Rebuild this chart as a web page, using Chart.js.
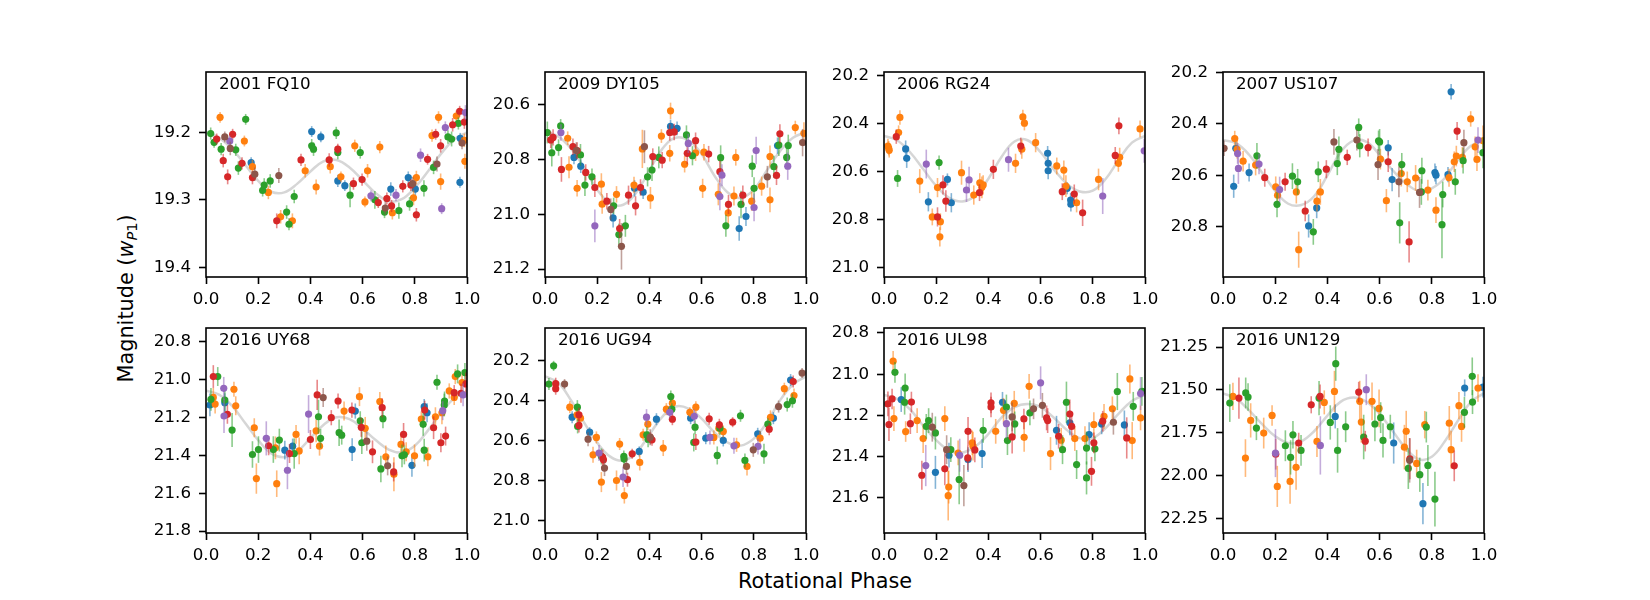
<!DOCTYPE html>
<html>
<head>
<meta charset="utf-8">
<script src="https://cdn.jsdelivr.net/npm/chart.js@4.4.1/dist/chart.umd.min.js"></script>
<style>
  body { margin: 0; width: 1650px; height: 600px; background: #fff; position: relative; overflow: hidden; font-family: 'DejaVu Sans', sans-serif; color: #000; }
  .panel { position: absolute; width: 351px; height: 250px; }
  #xlabel { position: absolute; left: 0; top: 570.7px; width: 1650px; text-align: center; font-size: 20.8px; line-height: 20.8px; white-space: nowrap; }
  #ylabel { position: absolute; left: -24.2px; top: 287.6px; width: 300px; height: 20.8px; text-align: center; font-size: 20.8px; line-height: 20.8px; white-space: nowrap; transform: rotate(-90deg); }
  #ylabel .sub { font-size: 70%; position: relative; top: 0.3em; line-height: 0; }
</style>
</head>
<body>
<div id="xlabel">Rotational Phase</div>
<div id="ylabel">Magnitude (<i>w</i><span class="sub"><i>P</i>1</span>)</div>
<script>
// observations: [phase, magnitude, error, session]
// session colours follow the matplotlib cycle: 0 blue, 1 orange, 2 green, 3 red, 4 purple, 5 brown
const fq10Obs = [
  [0.018,19.202,.009,2],[0.031,19.215,.008,2],[0.041,19.210,.008,3],[0.054,19.178,.008,1],[0.058,19.225,.009,2],
  [0.072,19.207,.008,5],[0.091,19.213,.008,4],[0.093,19.224,.010,5],[0.066,19.242,.010,3],[0.083,19.266,.011,3],
  [0.102,19.203,.008,3],[0.114,19.226,.009,2],[0.124,19.253,.010,2],[0.147,19.213,.008,1],[0.152,19.181,.008,2],
  [0.138,19.246,.009,3],[0.173,19.245,.008,0],[0.178,19.251,.010,1],[0.178,19.267,.010,3],[0.187,19.262,.010,5],
  [0.217,19.286,.009,2],[0.223,19.278,.010,2],[0.246,19.272,.010,2],[0.239,19.289,.010,1],[0.279,19.264,.011,5],
  [0.271,19.331,.011,3],[0.286,19.325,.010,1],[0.309,19.318,.010,2],[0.318,19.336,.009,2],[0.331,19.331,.011,1],
  [0.338,19.295,.010,2],[0.364,19.241,.009,3],[0.380,19.257,.010,1],[0.422,19.281,.011,1],[0.405,19.199,.008,0],
  [0.405,19.220,.010,2],[0.412,19.225,.010,2],[0.440,19.207,.008,0],[0.472,19.241,.010,3],[0.476,19.251,.010,1],
  [0.499,19.201,.009,2],[0.505,19.225,.008,3],[0.505,19.230,.010,2],[0.505,19.272,.009,0],[0.517,19.266,.008,1],
  [0.532,19.279,.008,0],[0.552,19.293,.018,2],[0.565,19.276,.009,3],[0.570,19.220,.009,1],[0.591,19.230,.009,2],
  [0.598,19.270,.009,3],[0.619,19.257,.010,1],[0.609,19.303,.008,1],[0.632,19.294,.008,4],[0.647,19.300,.013,2],
  [0.660,19.304,.008,3],[0.666,19.222,.009,1],[0.684,19.318,.009,2],[0.687,19.312,.010,5],[0.693,19.298,.009,3],
  [0.708,19.284,.010,0],[0.711,19.309,.009,3],[0.714,19.319,.010,1],[0.728,19.293,.009,4],[0.739,19.316,.012,2],
  [0.754,19.280,.009,3],[0.775,19.267,.009,0],[0.785,19.278,.009,3],[0.792,19.276,.010,5],[0.806,19.267,.010,1],
  [0.795,19.297,.011,1],[0.802,19.284,.009,0],[0.780,19.306,.010,2],[0.806,19.322,.010,3],[0.835,19.283,.012,2],
  [0.822,19.234,.010,4],[0.849,19.240,.008,3],[0.872,19.252,.010,2],[0.885,19.247,.011,5],[0.866,19.205,.009,1],
  [0.880,19.203,.008,3],[0.891,19.178,.009,1],[0.899,19.220,.010,3],[0.899,19.273,.012,1],[0.903,19.313,.008,4],
  [0.917,19.193,.009,4],[0.927,19.207,.010,2],[0.941,19.210,.011,2],[0.945,19.189,.010,3],[0.959,19.176,.008,1],
  [0.967,19.187,.009,2],[0.972,19.169,.008,3],[0.990,19.185,.010,3],[0.994,19.171,.011,4],[0.974,19.209,.008,0],
  [0.981,19.216,.009,5],[0.990,19.212,.010,1],[0.992,19.243,.011,1],[0.973,19.274,.008,0]
];
const dy105Obs = [
  [0.009,20.701,.04,2],[0.022,20.728,.03,3],[0.031,20.719,.03,3],[0.026,20.775,.05,2],[0.052,20.756,.03,2],
  [0.060,20.677,.025,2],[0.061,20.701,.03,4],[0.063,20.836,.045,3],[0.087,20.722,.025,1],[0.092,20.828,.04,1],
  [0.107,20.753,.03,3],[0.111,20.792,.025,0],[0.120,20.767,.03,5],[0.123,20.767,.03,3],[0.136,20.783,.04,2],
  [0.137,20.824,.025,0],[0.123,20.905,.03,1],[0.156,20.847,.03,3],[0.153,20.893,.04,2],[0.180,20.863,.03,2],
  [0.191,20.902,.035,3],[0.191,21.042,.06,4],[0.216,20.890,.04,1],[0.219,20.963,.035,1],[0.237,20.952,.03,3],
  [0.252,20.982,.04,5],[0.263,20.969,.03,2],[0.261,21.013,.035,0],[0.274,20.927,.03,1],[0.283,21.074,.04,2],
  [0.286,21.052,.035,3],[0.293,21.117,.085,5],[0.308,21.042,.04,2],[0.320,20.930,.035,3],[0.341,20.893,.03,1],
  [0.343,20.905,.03,0],[0.347,20.969,.035,3],[0.366,20.902,.03,3],[0.373,20.761,.07,1],[0.381,20.753,.06,5],
  [0.376,20.919,.025,0],[0.393,20.863,.035,2],[0.404,20.940,.04,1],[0.410,20.838,.04,2],[0.413,20.789,.03,3],
  [0.436,20.792,.04,2],[0.449,20.802,.03,3],[0.446,20.714,.025,1],[0.478,20.777,.03,1],[0.481,20.622,.03,1],
  [0.481,20.679,.025,0],[0.478,20.701,.03,3],[0.495,20.699,.03,3],[0.506,20.686,.025,0],[0.542,20.710,.035,2],
  [0.549,20.741,.035,4],[0.535,20.817,.03,1],[0.545,20.777,.04,3],[0.565,20.786,.035,2],[0.577,20.731,.03,3],
  [0.577,20.775,.03,1],[0.609,20.773,.03,1],[0.604,20.905,.035,1],[0.627,20.780,.03,3],[0.664,20.927,.04,1],
  [0.670,20.935,.05,4],[0.673,20.793,.045,2],[0.670,20.844,.04,3],[0.678,20.857,.04,4],[0.693,21.042,.04,2],
  [0.703,20.964,.035,3],[0.702,20.995,.04,1],[0.731,20.792,.03,1],[0.724,20.933,.035,1],[0.744,21.052,.045,0],
  [0.758,20.930,.035,3],[0.751,20.964,.05,2],[0.770,21.008,.035,0],[0.792,20.952,.035,1],[0.801,20.975,.05,4],
  [0.801,20.905,.04,2],[0.794,20.824,.04,2],[0.809,20.767,.05,4],[0.830,20.897,.035,1],[0.862,20.789,.04,1],
  [0.862,20.947,.045,1],[0.852,20.863,.04,5],[0.877,20.826,.04,2],[0.887,20.858,.035,3],[0.891,20.749,.03,0],
  [0.896,20.747,.04,2],[0.900,20.706,.035,3],[0.926,20.792,.04,2],[0.930,20.824,.05,4],[0.932,20.749,.04,2],
  [0.959,20.683,.025,1],[0.992,20.704,.04,1],[0.987,20.738,.05,5]
];
const rg24Obs = [
  [0.015,20.494,.03,1],[0.018,20.503,.03,1],[0.020,20.512,.03,1],[0.047,20.455,.03,3],[0.056,20.438,.03,1],
  [0.061,20.375,.03,1],[0.052,20.629,.035,2],[0.083,20.506,.035,0],[0.087,20.545,.04,0],[0.137,20.640,.05,1],
  [0.162,20.569,.06,4],[0.170,20.726,.04,0],[0.211,20.563,.03,2],[0.185,20.789,.035,1],[0.205,20.789,.04,3],
  [0.205,20.667,.04,1],[0.216,20.809,.035,1],[0.214,20.872,.04,1],[0.226,20.656,.04,3],[0.237,20.723,.045,3],
  [0.243,20.633,.025,0],[0.258,20.730,.04,0],[0.297,20.605,.05,1],[0.316,20.677,.05,4],[0.326,20.635,.055,4],
  [0.344,20.698,.04,1],[0.366,20.688,.035,3],[0.367,20.647,.04,1],[0.375,20.666,.045,1],[0.380,20.656,.04,1],
  [0.419,20.591,.04,3],[0.477,20.551,.05,4],[0.504,20.566,.04,1],[0.524,20.494,.035,3],[0.528,20.507,.04,1],
  [0.532,20.373,.03,1],[0.538,20.399,.03,1],[0.581,20.480,.04,1],[0.627,20.524,.03,0],[0.629,20.566,.03,0],
  [0.629,20.597,.035,0],[0.662,20.577,.035,1],[0.689,20.594,.04,1],[0.697,20.661,.045,1],[0.702,20.670,.025,0],
  [0.683,20.684,.035,3],[0.715,20.719,.03,0],[0.716,20.736,.03,0],[0.729,20.694,.04,3],[0.738,20.730,.04,1],
  [0.761,20.772,.055,3],[0.822,20.633,.045,1],[0.838,20.702,.075,4],[0.886,20.533,.035,3],[0.900,20.410,.035,3],
  [0.903,20.541,.04,1],[0.898,20.566,.035,1],[0.981,20.423,.035,1],[0.997,20.514,.05,4]
];
const us107Obs = [
  [0.004,20.495,.03,5],[0.041,20.642,.045,0],[0.049,20.495,.03,0],[0.045,20.457,.03,1],[0.054,20.499,.035,1],
  [0.056,20.515,.04,4],[0.059,20.573,.06,4],[0.077,20.545,.04,1],[0.100,20.589,.035,0],[0.125,20.560,.04,1],
  [0.130,20.524,.05,2],[0.138,20.556,.04,4],[0.160,20.609,.035,3],[0.202,20.644,.04,1],[0.209,20.677,.04,1],
  [0.207,20.712,.05,2],[0.217,20.655,.05,4],[0.238,20.625,.035,3],[0.266,20.603,.05,2],[0.281,20.664,.045,1],
  [0.286,20.625,.05,2],[0.290,20.888,.07,1],[0.315,20.738,.04,3],[0.328,20.796,.045,0],[0.346,20.819,.05,2],
  [0.359,20.726,.04,0],[0.360,20.700,.04,1],[0.373,20.664,.05,1],[0.365,20.586,.04,2],[0.396,20.576,.035,3],
  [0.425,20.470,.05,5],[0.438,20.554,.045,2],[0.444,20.499,.05,2],[0.476,20.530,.03,3],[0.513,20.463,.04,5],
  [0.520,20.414,.035,2],[0.524,20.485,.045,2],[0.556,20.492,.035,3],[0.596,20.466,.04,2],[0.594,20.558,.06,5],
  [0.603,20.537,.04,1],[0.600,20.470,.05,2],[0.626,20.698,.045,1],[0.633,20.547,.04,3],[0.633,20.493,.03,0],
  [0.648,20.616,.045,0],[0.674,20.625,.06,5],[0.683,20.593,.05,1],[0.685,20.558,.045,2],[0.677,20.784,.08,2],
  [0.713,20.858,.08,3],[0.706,20.625,.04,1],[0.738,20.610,.05,1],[0.762,20.582,.05,2],[0.753,20.666,.06,5],
  [0.760,20.664,.05,2],[0.785,20.657,.04,1],[0.812,20.589,.035,0],[0.816,20.599,.035,0],[0.816,20.735,.05,1],
  [0.839,20.791,.13,2],[0.842,20.674,.05,2],[0.862,20.597,.03,0],[0.866,20.609,.035,1],[0.874,20.276,.03,0],
  [0.886,20.547,.04,1],[0.890,20.625,.05,2],[0.894,20.525,.04,1],[0.897,20.428,.035,3],[0.917,20.530,.04,1],
  [0.920,20.543,.05,2],[0.923,20.473,.05,5],[0.949,20.381,.03,1],[0.966,20.489,.04,1],[0.973,20.538,.045,1],
  [0.977,20.463,.05,4],[0.996,20.466,.06,1],[0.996,20.512,.06,2]
];
const uy68Obs = [
  [0.015,21.135,.06,0],[0.019,21.105,.06,2],[0.028,20.985,.06,3],[0.035,21.130,.05,1],[0.045,20.985,.05,2],
  [0.028,21.095,.05,1],[0.068,21.047,.06,4],[0.072,21.123,.05,0],[0.072,21.109,.06,2],[0.069,21.193,.09,4],
  [0.082,21.184,.05,3],[0.100,21.267,.09,2],[0.107,21.052,.04,1],[0.114,21.139,.05,1],[0.185,21.255,.05,1],
  [0.178,21.396,.07,2],[0.193,21.523,.08,1],[0.201,21.370,.07,2],[0.231,21.311,.09,4],[0.240,21.350,.05,3],
  [0.258,21.370,.07,2],[0.266,21.361,.06,1],[0.271,21.550,.07,1],[0.281,21.320,.06,2],[0.302,21.373,.05,0],
  [0.312,21.479,.10,4],[0.320,21.391,.05,3],[0.332,21.352,.04,0],[0.338,21.391,.08,2],[0.345,21.290,.05,1],
  [0.357,21.377,.07,1],[0.393,21.183,.10,4],[0.400,21.317,.05,3],[0.422,21.271,.06,1],[0.426,21.082,.08,3],
  [0.431,21.197,.09,2],[0.435,21.352,.05,1],[0.439,21.311,.05,2],[0.449,21.096,.05,5],[0.480,21.202,.04,3],
  [0.506,21.114,.04,3],[0.510,21.281,.07,2],[0.520,21.294,.05,2],[0.529,21.167,.05,1],[0.559,21.162,.04,3],
  [0.560,21.370,.06,0],[0.572,21.167,.04,0],[0.588,21.091,.05,1],[0.591,21.218,.05,2],[0.595,21.253,.05,3],
  [0.597,21.334,.06,2],[0.610,21.258,.06,1],[0.616,21.326,.05,5],[0.638,21.382,.06,3],[0.666,21.117,.05,1],
  [0.675,21.149,.05,3],[0.678,21.207,.05,2],[0.670,21.472,.07,2],[0.689,21.408,.06,1],[0.696,21.456,.05,5],
  [0.719,21.488,.05,3],[0.720,21.500,.09,1],[0.747,21.343,.06,1],[0.757,21.290,.06,3],[0.751,21.403,.06,2],
  [0.760,21.398,.05,2],[0.767,21.382,.05,1],[0.789,21.453,.06,0],[0.799,21.403,.06,1],[0.825,21.209,.04,1],
  [0.832,21.237,.06,2],[0.836,21.144,.04,0],[0.838,21.162,.05,3],[0.847,21.176,.05,0],[0.836,21.373,.06,2],
  [0.850,21.408,.05,1],[0.872,21.255,.06,3],[0.879,21.197,.05,1],[0.885,21.015,.04,2],[0.900,21.334,.05,3],
  [0.904,21.176,.06,1],[0.907,21.165,.05,4],[0.913,21.135,.06,2],[0.914,21.114,.05,2],[0.918,21.299,.05,3],
  [0.932,21.061,.04,1],[0.951,21.070,.04,3],[0.955,20.985,.04,1],[0.951,21.095,.04,1],[0.964,20.971,.05,2],
  [0.981,21.017,.05,1],[0.977,21.073,.05,3],[0.985,21.082,.06,4],[0.992,20.964,.05,2],[0.996,21.024,.06,3]
];
const ug94Obs = [
  [0.015,20.318,.03,2],[0.033,20.227,.025,2],[0.041,20.316,.03,3],[0.041,20.341,.03,3],[0.075,20.318,.025,5],
  [0.095,20.433,.03,1],[0.104,20.483,.03,0],[0.124,20.433,.035,2],[0.123,20.471,.035,1],[0.130,20.471,.035,3],
  [0.136,20.488,.03,1],[0.125,20.529,.035,2],[0.130,20.524,.035,3],[0.171,20.558,.025,0],[0.165,20.593,.035,5],
  [0.197,20.584,.03,1],[0.184,20.671,.04,1],[0.207,20.662,.04,4],[0.216,20.679,.04,2],[0.221,20.684,.04,3],
  [0.224,20.696,.035,3],[0.216,20.807,.05,1],[0.228,20.737,.04,5],[0.274,20.799,.05,1],[0.286,20.617,.03,1],
  [0.299,20.782,.05,4],[0.302,20.679,.03,2],[0.303,20.692,.03,2],[0.304,20.874,.04,1],[0.312,20.729,.04,5],
  [0.316,20.795,.035,3],[0.334,20.666,.025,3],[0.361,20.654,.025,0],[0.363,20.709,.04,1],[0.376,20.571,.03,1],
  [0.389,20.483,.04,4],[0.390,20.571,.04,2],[0.395,20.593,.04,2],[0.394,20.518,.03,1],[0.404,20.588,.03,3],
  [0.403,20.583,.04,5],[0.410,20.596,.03,3],[0.427,20.493,.03,0],[0.453,20.637,.04,1],[0.465,20.443,.03,1],
  [0.478,20.459,.03,4],[0.482,20.380,.03,2],[0.486,20.443,.03,2],[0.488,20.413,.03,1],[0.488,20.493,.03,3],
  [0.555,20.459,.025,1],[0.558,20.488,.03,0],[0.572,20.479,.035,4],[0.578,20.433,.03,1],[0.575,20.533,.035,2],
  [0.570,20.609,.045,2],[0.578,20.607,.04,3],[0.616,20.588,.03,0],[0.632,20.584,.035,4],[0.647,20.584,.035,1],
  [0.629,20.491,.03,3],[0.660,20.674,.045,2],[0.666,20.538,.03,1],[0.668,20.521,.03,3],[0.670,20.538,.035,2],
  [0.683,20.554,.03,1],[0.683,20.599,.03,0],[0.719,20.508,.025,3],[0.724,20.626,.04,4],[0.734,20.621,.035,1],
  [0.749,20.476,.03,2],[0.766,20.699,.035,2],[0.774,20.729,.045,1],[0.798,20.646,.035,5],[0.816,20.629,.04,4],
  [0.815,20.566,.03,0],[0.824,20.588,.035,1],[0.839,20.666,.05,2],[0.854,20.518,.03,2],[0.859,20.543,.03,3],
  [0.864,20.484,.035,1],[0.875,20.488,.03,0],[0.895,20.430,.03,5],[0.917,20.341,.03,1],[0.928,20.420,.035,2],
  [0.941,20.298,.03,0],[0.948,20.401,.035,2],[0.951,20.305,.03,3],[0.954,20.375,.035,1],[0.985,20.263,.025,5]
];
const ul98Obs = [
  [0.015,21.144,.06,3],[0.019,21.244,.08,3],[0.031,21.120,.05,3],[0.035,20.937,.05,1],[0.042,20.991,.05,2],
  [0.038,21.215,.06,1],[0.066,21.123,.06,0],[0.081,21.067,.07,2],[0.079,21.136,.06,2],[0.083,21.278,.05,1],
  [0.105,21.135,.05,3],[0.101,21.240,.05,3],[0.127,21.225,.06,1],[0.150,21.312,.07,1],[0.145,21.490,.07,3],
  [0.160,21.443,.10,4],[0.162,21.253,.06,2],[0.171,21.225,.06,2],[0.185,21.257,.07,5],[0.197,21.285,.08,2],
  [0.197,21.476,.08,0],[0.233,21.215,.06,1],[0.240,21.366,.07,5],[0.233,21.459,.08,3],[0.249,21.393,.06,0],
  [0.256,21.366,.06,2],[0.248,21.547,.08,1],[0.246,21.589,.12,1],[0.284,21.382,.06,1],[0.290,21.393,.08,4],
  [0.288,21.511,.12,2],[0.306,21.540,.10,5],[0.322,21.277,.07,3],[0.321,21.406,.06,3],[0.322,21.414,.06,0],
  [0.338,21.333,.06,1],[0.341,21.349,.07,1],[0.348,21.367,.06,3],[0.376,21.385,.07,0],[0.380,21.272,.06,2],
  [0.428,21.277,.06,1],[0.410,21.139,.05,3],[0.410,21.159,.05,3],[0.454,21.136,.05,0],[0.458,21.175,.06,1],
  [0.469,21.159,.06,2],[0.469,21.240,.07,4],[0.473,21.322,.07,2],[0.491,21.207,.07,5],[0.491,21.304,.08,3],
  [0.499,21.141,.06,1],[0.501,21.241,.06,2],[0.537,21.306,.07,1],[0.536,21.217,.05,3],[0.556,21.059,.06,1],
  [0.559,21.188,.06,2],[0.573,21.168,.05,5],[0.600,21.042,.08,4],[0.607,21.151,.06,5],[0.623,21.212,.06,3],
  [0.627,21.225,.06,3],[0.638,21.385,.08,1],[0.661,21.272,.07,0],[0.669,21.301,.06,3],[0.679,21.320,.06,1],
  [0.684,21.366,.07,2],[0.699,21.136,.10,2],[0.712,21.236,.06,0],[0.712,21.193,.07,3],[0.719,21.253,.05,3],
  [0.738,21.438,.07,2],[0.731,21.312,.06,1],[0.770,21.312,.06,1],[0.776,21.358,.08,2],[0.776,21.503,.08,2],
  [0.786,21.293,.06,0],[0.795,21.471,.07,3],[0.804,21.333,.05,3],[0.804,21.244,.06,1],[0.808,21.362,.06,2],
  [0.843,21.204,.06,1],[0.834,21.241,.05,0],[0.838,21.228,.05,3],[0.879,21.233,.06,5],[0.875,21.168,.06,1],
  [0.894,21.084,.09,2],[0.921,21.246,.07,0],[0.930,21.309,.10,3],[0.942,21.023,.07,1],[0.951,21.322,.09,1],
  [0.955,21.156,.07,2],[0.983,21.212,.06,1],[0.983,21.094,.08,4],[0.988,21.083,.07,2]
];
const un129Obs = [
  [0.026,21.577,.11,2],[0.038,21.538,.08,1],[0.061,21.548,.12,3],[0.087,21.518,.09,2],[0.096,21.542,.08,2],
  [0.086,21.898,.11,1],[0.106,21.678,.10,1],[0.128,21.723,.07,2],[0.156,21.752,.09,1],[0.188,21.649,.06,1],
  [0.201,21.869,.14,4],[0.202,21.875,.09,3],[0.208,22.063,.12,1],[0.239,21.826,.09,2],[0.259,21.894,.10,2],
  [0.257,22.034,.13,1],[0.268,21.762,.08,2],[0.280,21.952,.13,1],[0.290,21.810,.06,3],[0.299,21.853,.09,2],
  [0.338,21.587,.05,3],[0.360,21.801,.09,1],[0.368,21.548,.10,2],[0.372,21.538,.07,3],[0.373,21.824,.17,4],
  [0.388,21.573,.07,1],[0.411,21.690,.10,2],[0.427,21.509,.12,1],[0.430,21.655,.07,0],[0.432,21.347,.10,2],
  [0.439,21.853,.13,2],[0.470,21.715,.09,2],[0.520,21.513,.06,3],[0.524,21.567,.12,1],[0.530,21.688,.12,1],
  [0.539,21.775,.13,2],[0.545,21.799,.06,3],[0.549,21.499,.09,4],[0.571,21.567,.11,1],[0.582,21.699,.10,2],
  [0.598,21.608,.11,1],[0.604,21.662,.09,2],[0.613,21.795,.10,2],[0.641,21.715,.07,2],[0.654,21.810,.12,0],
  [0.695,21.834,.13,1],[0.702,21.742,.12,1],[0.710,21.958,.12,2],[0.716,21.902,.12,3],[0.715,21.911,.13,5],
  [0.742,21.929,.08,1],[0.754,21.995,.10,2],[0.766,22.164,.12,0],[0.773,21.703,.08,1],[0.779,21.717,.09,2],
  [0.785,21.941,.12,2],[0.812,22.137,.16,2],[0.867,21.694,.10,1],[0.874,21.849,.11,1],[0.886,21.943,.09,3],
  [0.904,21.592,.08,1],[0.914,21.713,.09,1],[0.925,21.631,.09,2],[0.926,21.489,.05,0],[0.955,21.421,.11,2],
  [0.956,21.571,.07,2],[0.977,21.489,.08,1],[0.996,21.484,.06,0]
];

// model light curves at these phases
const fitPhase = [0,0.05,0.1,0.15,0.2,0.25,0.3,0.35,0.4,0.45,0.5,0.55,0.6,0.65,0.7,0.75,0.8,0.85,0.9,0.95,1];
const fq10Fit  = [19.2,19.208,19.225,19.248,19.272,19.288,19.289,19.276,19.258,19.243,19.241,19.252,19.271,19.290,19.302,19.299,19.282,19.258,19.232,19.211,19.2];
const dy105Fit = [20.700,20.715,20.76,20.83,20.91,20.96,20.965,20.92,20.84,20.76,20.72,20.73,20.78,20.86,20.92,20.94,20.91,20.84,20.77,20.72,20.70];
const rg24Fit  = [20.452,20.47,20.52,20.59,20.66,20.71,20.725,20.70,20.63,20.54,20.475,20.47,20.52,20.59,20.65,20.683,20.68,20.63,20.55,20.48,20.452];
const us107Fit = [20.463,20.475,20.52,20.59,20.66,20.71,20.715,20.68,20.60,20.51,20.465,20.47,20.52,20.58,20.63,20.66,20.65,20.61,20.54,20.485,20.463];
const uy68Fit  = [21.06,21.08,21.14,21.23,21.32,21.39,21.41,21.38,21.31,21.24,21.20,21.21,21.26,21.32,21.37,21.385,21.35,21.27,21.18,21.10,21.06];
const ug94Fit  = [20.28,20.31,20.40,20.51,20.61,20.68,20.70,20.66,20.57,20.48,20.43,20.44,20.49,20.56,20.61,20.625,20.59,20.51,20.40,20.32,20.28];
const ul98Fit  = [21.10,21.12,21.17,21.25,21.32,21.37,21.38,21.35,21.29,21.21,21.16,21.145,21.16,21.21,21.27,21.31,21.31,21.26,21.19,21.13,21.10];
const un129Fit = [21.52,21.55,21.62,21.70,21.77,21.81,21.80,21.74,21.65,21.57,21.545,21.57,21.64,21.74,21.84,21.905,21.89,21.80,21.68,21.57,21.52];

// axis ranges (top, bottom) and tick labels
const xTicks = [0, 0.2, 0.4, 0.6, 0.8, 1.0];
const fq10Range = [19.111, 19.414],  fq10Ticks = [19.2, 19.3, 19.4];
const dy105Range = [20.48, 21.229],  dy105Ticks = [20.6, 20.8, 21.0, 21.2];
const rg24Range = [20.186, 21.039],  rg24Ticks = [20.2, 20.4, 20.6, 20.8, 21.0];
const us107Range = [20.199, 20.994], us107Ticks = [20.2, 20.4, 20.6, 20.8];
const uy68Range = [20.729, 21.81],   uy68Ticks = [20.8, 21.0, 21.2, 21.4, 21.6, 21.8];
const ug94Range = [20.038, 21.061],  ug94Ticks = [20.2, 20.4, 20.6, 20.8, 21.0];
const ul98Range = [20.776, 21.77],   ul98Ticks = [20.8, 21.0, 21.2, 21.4, 21.6];
const un129Range = [21.139, 22.335], un129Ticks = [21.25, 21.5, 21.75, 22.0, 22.25];

const sessionColors = ['#1f77b4', '#ff7f0e', '#2ca02c', '#d62728', '#9467bd', '#8c564b'];

const panels = [
  { name: '2001 FQ10',  obs: fq10Obs,  fit: fq10Fit,  range: fq10Range,  ticks: fq10Ticks,  dec: 1 },
  { name: '2009 DY105', obs: dy105Obs, fit: dy105Fit, range: dy105Range, ticks: dy105Ticks, dec: 1 },
  { name: '2006 RG24',  obs: rg24Obs,  fit: rg24Fit,  range: rg24Range,  ticks: rg24Ticks,  dec: 1 },
  { name: '2007 US107', obs: us107Obs, fit: us107Fit, range: us107Range, ticks: us107Ticks, dec: 1 },
  { name: '2016 UY68',  obs: uy68Obs,  fit: uy68Fit,  range: uy68Range,  ticks: uy68Ticks,  dec: 1 },
  { name: '2016 UG94',  obs: ug94Obs,  fit: ug94Fit,  range: ug94Range,  ticks: ug94Ticks,  dec: 1 },
  { name: '2016 UL98',  obs: ul98Obs,  fit: ul98Fit,  range: ul98Range,  ticks: ul98Ticks,  dec: 1 },
  { name: '2016 UN129', obs: un129Obs, fit: un129Fit, range: un129Range, ticks: un129Ticks, dec: 2 }
];

// subplot grid (plot box corners in page pixels)
const colLeft = [206, 545, 884, 1223];
const rowTop = [72, 328];
const AXIS_W = 70, AXIS_H = 35;

Chart.defaults.font.family = "'DejaVu Sans', sans-serif";
Chart.defaults.font.size = 16.7;
Chart.defaults.color = '#000';

function fade(hex, a) {
  const n = parseInt(hex.slice(1), 16);
  return `rgba(${n >> 16}, ${(n >> 8) & 255}, ${n & 255}, ${a})`;
}

// vertical error bars, drawn just under each session's markers
const errorBars = {
  id: 'errorBars',
  beforeDatasetDraw(chart, args) {
    const ds = chart.data.datasets[args.index];
    if (!ds.errs) return;
    const { ctx, chartArea: a, scales: { x, y } } = chart;
    ctx.save();
    ctx.beginPath();
    ctx.rect(a.left, a.top, a.right - a.left, a.bottom - a.top);
    ctx.clip();
    ctx.strokeStyle = ds.errColor;
    ctx.lineWidth = 1.6;
    ds.data.forEach((p, i) => {
      const px = x.getPixelForValue(p.x);
      ctx.beginPath();
      ctx.moveTo(px, y.getPixelForValue(p.y - ds.errs[i]));
      ctx.lineTo(px, y.getPixelForValue(p.y + ds.errs[i]));
      ctx.stroke();
    });
    ctx.restore();
  }
};

// axes box and object name
const frame = {
  id: 'frame',
  afterDatasetsDraw(chart, args, opts) {
    const { ctx, chartArea: a } = chart;
    ctx.save();
    ctx.strokeStyle = '#000';
    ctx.lineWidth = 1.6;
    ctx.strokeRect(a.left, a.top, a.right - a.left, a.bottom - a.top);
    ctx.fillStyle = '#000';
    ctx.font = "16.7px 'DejaVu Sans'";
    ctx.textBaseline = 'alphabetic';
    ctx.fillText(opts.title, a.left + 13, a.top + 17);
    ctx.restore();
  }
};

function makePanel(p, i) {
  const div = document.createElement('div');
  div.className = 'panel';
  div.style.left = (colLeft[i % 4] - AXIS_W) + 'px';
  div.style.top = (rowTop[Math.floor(i / 4)] - 10) + 'px';
  const cv = document.createElement('canvas');
  div.appendChild(cv);
  document.body.appendChild(div);

  const datasets = [{
    data: fitPhase.map((x, k) => ({ x, y: p.fit[k] })),
    showLine: true,
    borderColor: 'rgba(200, 200, 200, 0.75)',
    borderWidth: 2.5,
    pointRadius: 0,
    tension: 0.4,
    order: 10
  }];
  sessionColors.forEach((c, s) => {
    const rows = p.obs.filter(r => r[3] === s);
    if (!rows.length) return;
    datasets.push({
      data: rows.map(r => ({ x: r[0], y: r[1] })),
      errs: rows.map(r => r[2]),
      errColor: fade(c, 0.55),
      backgroundColor: c,
      borderColor: c,
      borderWidth: 0,
      pointRadius: 3.6,
      order: 6 - s
    });
  });

  new Chart(cv, {
    type: 'scatter',
    data: { datasets },
    plugins: [errorBars, frame],
    options: {
      responsive: true,
      maintainAspectRatio: false,
      animation: false,
      events: [],
      layout: { padding: { top: 10, right: 20, left: 0, bottom: 0 } },
      plugins: {
        legend: { display: false },
        tooltip: { enabled: false },
        frame: { title: p.name }
      },
      scales: {
        x: {
          type: 'linear',
          min: 0,
          max: 1,
          afterBuildTicks: s => { s.ticks = xTicks.map(v => ({ value: v })); },
          afterFit: s => { s.height = AXIS_H; s.paddingLeft = 0; s.paddingRight = 0; },
          ticks: { callback: v => v.toFixed(1), padding: 6, maxRotation: 0, autoSkip: false, color: '#000' },
          grid: { drawOnChartArea: false, drawTicks: true, tickLength: 7, tickWidth: 1.6, tickColor: '#000' },
          border: { display: false }
        },
        y: {
          type: 'linear',
          reverse: true,
          min: p.range[0],
          max: p.range[1],
          afterBuildTicks: s => { s.ticks = p.ticks.map(v => ({ value: v })); },
          afterFit: s => { s.width = AXIS_W; s.paddingTop = 0; s.paddingBottom = 0; },
          ticks: { callback: v => v.toFixed(p.dec), padding: 8, autoSkip: false, color: '#000' },
          grid: { drawOnChartArea: false, drawTicks: true, tickLength: 7, tickWidth: 1.6, tickColor: '#000' },
          border: { display: false }
        }
      }
    }
  });
}

panels.forEach(makePanel);
</script>
</body>
</html>
